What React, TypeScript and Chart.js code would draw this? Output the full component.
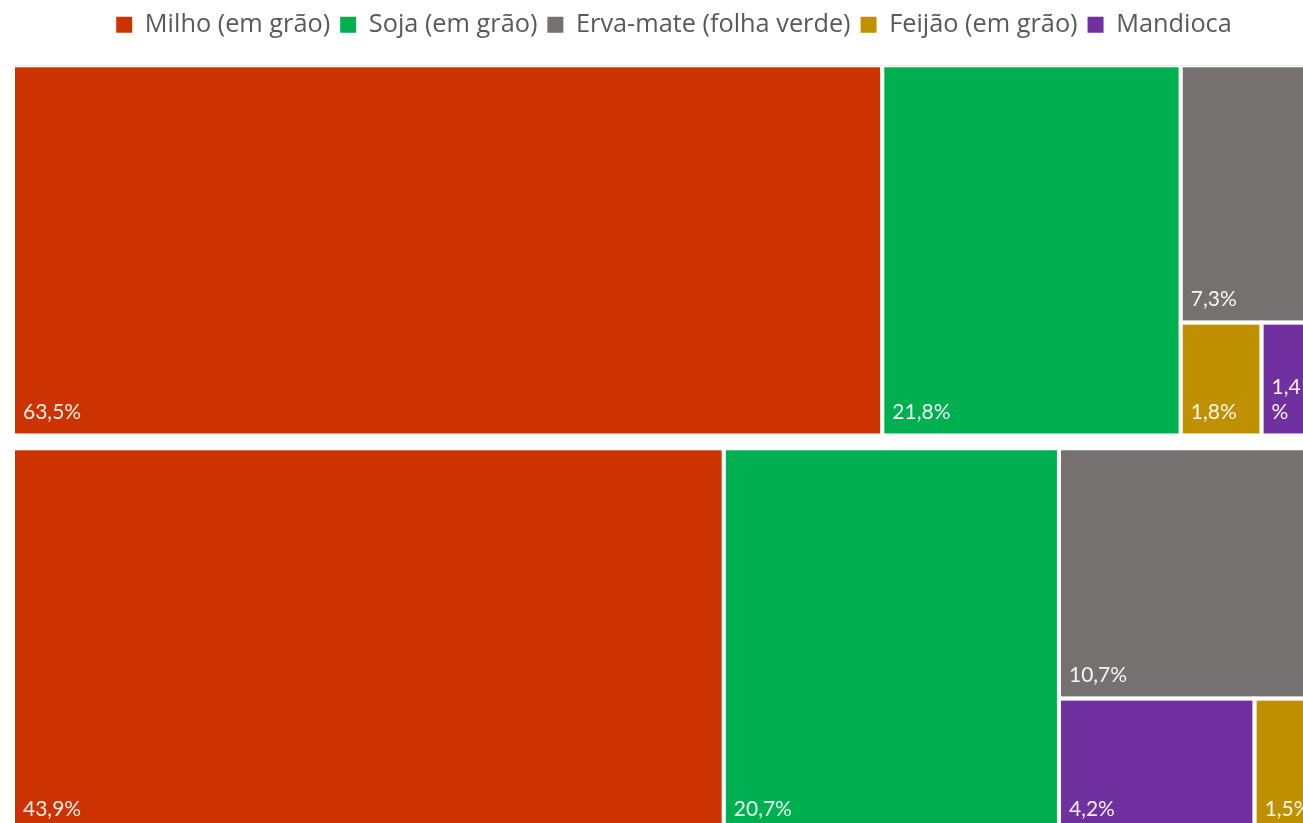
import React, { useEffect, useRef } from 'react';
import { Chart, registerables } from 'chart.js';

Chart.register(...registerables);

// ---- data ----
const CROPS = ['Milho (em grão)', 'Soja (em grão)', 'Erva-mate (folha verde)', 'Feijão (em grão)', 'Mandioca'];
const COLORS = ['#CC3300', '#00B050', '#767171', '#BF9000', '#7030A0'];
// share (%) of each crop inside each group, in CROPS order
const GROUP_1_VALUES = [63.5, 21.8, 7.3, 1.8, 1.4];
const GROUP_2_VALUES = [43.9, 20.7, 10.7, 1.5, 4.2];
// relative size of each group in the treemap
const GROUP_SHARE = [49.1, 50.9];
const GROUP_VALUES = [GROUP_1_VALUES, GROUP_2_VALUES];
const GROUP_GAP = 1.7;

const LABEL_FONT = 'Lato, "Open Sans", sans-serif';
const LEGEND_FONT = '"Open Sans", Lato, sans-serif';

type Item = { v: number; i: number; a?: number };
type Rect = Item & { x: number; y: number; w: number; h: number };

function squarify(items: Item[], rect: { x: number; y: number; w: number; h: number }): Rect[] {
  const out: Rect[] = [];
  let { x, y, w, h } = rect;
  const total = items.reduce((s, t) => s + t.v, 0);
  if (total <= 0) return out;
  const scale = (w * h) / total;
  const rest = items.map((t) => ({ ...t, a: t.v * scale }));
  let i = 0;
  while (i < rest.length) {
    const side = Math.min(w, h);
    const worst = (r: Item[]) => {
      const s = r.reduce((p, q) => p + (q.a as number), 0);
      const mx = Math.max(...r.map((t) => t.a as number));
      const mn = Math.min(...r.map((t) => t.a as number));
      return Math.max((side * side * mx) / (s * s), (s * s) / (side * side * mn));
    };
    const row: Item[] = [rest[i]];
    let j = i + 1;
    while (j < rest.length && worst([...row, rest[j]]) <= worst(row)) {
      row.push(rest[j]);
      j++;
    }
    const s = row.reduce((p, q) => p + (q.a as number), 0);
    if (w >= h) {
      const cw = s / h;
      let cy = y;
      for (const r of row) {
        const rh = (r.a as number) / cw;
        out.push({ ...r, x, y: cy, w: cw, h: rh });
        cy += rh;
      }
      x += cw;
      w -= cw;
    } else {
      const rh = s / w;
      let cx = x;
      for (const r of row) {
        const rw = (r.a as number) / rh;
        out.push({ ...r, x: cx, y, w: rw, h: rh });
        cx += rw;
      }
      y += rh;
      h -= rh;
    }
    i = j;
  }
  return out;
}

function wrapText(ctx: CanvasRenderingContext2D, text: string, maxW: number): string[] {
  if (ctx.measureText(text).width <= maxW) return [text];
  const lines: string[] = [];
  let cur = '';
  for (const ch of text) {
    if (cur && ctx.measureText(cur + ch).width > maxW) {
      lines.push(cur);
      cur = ch;
    } else cur += ch;
  }
  if (cur) lines.push(cur);
  return lines;
}

const treemapPlugin = {
  id: 'treemapRects',
  afterInit(chart: any) {
    const legend = chart.legend;
    if (legend) {
      const orig = legend.fit;
      legend.fit = function () {
        orig.call(legend);
        this.height += 18;
      };
    }
  },
  afterDatasetsDraw(chart: any) {
    const { ctx, chartArea, scales } = chart;
    const xs = scales.x;
    const ys = scales.y;
    ctx.save();
    ctx.beginPath();
    ctx.rect(chartArea.left, chartArea.top, chartArea.right - chartArea.left, chartArea.bottom - chartArea.top);
    ctx.clip();
    let y0 = 0;
    GROUP_VALUES.forEach((vals, g) => {
      const y1 = y0 + GROUP_SHARE[g];
      const top = ys.getPixelForValue(y0);
      const bottom = ys.getPixelForValue(y1);
      const left = xs.getPixelForValue(0);
      const right = xs.getPixelForValue(100);
      const items = vals
        .map((v, i) => ({ v, i }))
        .filter((t) => t.v > 0 && chart.isDatasetVisible(t.i))
        .sort((a, b) => b.v - a.v);
      const rects = squarify(items, { x: left, y: top, w: right - left, h: bottom - top });
      for (const r of rects) {
        ctx.fillStyle = COLORS[r.i];
        ctx.fillRect(r.x, r.y, r.w, r.h);
        ctx.lineWidth = 4;
        ctx.strokeStyle = '#FFFFFF';
        ctx.strokeRect(r.x, r.y, r.w, r.h);
      }
      ctx.font = `21px ${LABEL_FONT}`;
      ctx.fillStyle = 'rgba(255,255,255,0.93)';
      ctx.textAlign = 'left';
      ctx.textBaseline = 'middle';
      for (const r of rects) {
        const label = r.v.toFixed(1).replace('.', ',') + '%';
        const lines = wrapText(ctx, label, r.w - 18);
        const lh = 25;
        lines.forEach((ln, k) => {
          const yy = r.y + r.h - 23 - (lines.length - 1 - k) * lh;
          ctx.fillText(ln, r.x + 10, yy);
        });
      }
      y0 = y1 + GROUP_GAP;
    });
    ctx.restore();
  },
};

export default function App() {
  const ref = useRef<HTMLCanvasElement | null>(null);
  useEffect(() => {
    if (!ref.current) return;
    const chart = new Chart(ref.current, {
      type: 'scatter',
      data: {
        datasets: CROPS.map((c, i) => ({
          label: c,
          data: [],
          backgroundColor: COLORS[i],
          borderColor: COLORS[i],
          borderWidth: 0,
        })),
      },
      options: {
        animation: false,
        responsive: false,
        layout: { padding: { left: 13, right: 11, top: 2, bottom: 0 } },
        scales: {
          x: { type: 'linear', min: 0, max: 100.8, display: false },
          y: {
            type: 'linear',
            min: 0,
            max: GROUP_SHARE.reduce((a, b) => a + b, 0) + GROUP_GAP * (GROUP_SHARE.length - 1),
            reverse: true,
            display: false,
          },
        },
        plugins: {
          legend: {
            position: 'top',
            labels: {
              boxWidth: 16,
              boxHeight: 16,
              padding: 10,
              color: '#595959',
              font: { family: LEGEND_FONT, size: 25.3 },
            },
          },
          tooltip: { enabled: false },
        },
      },
      plugins: [treemapPlugin],
    });
    return () => chart.destroy();
  }, []);
  return (
    <div style={{ position: 'fixed', left: 0, top: 0, width: '100vw', height: '100vh', overflow: 'hidden', background: '#fff' }}>
      <canvas ref={ref} width={1346} height={832} style={{ position: 'absolute', left: 0, top: 0, display: 'block' }} />
    </div>
  );
}
